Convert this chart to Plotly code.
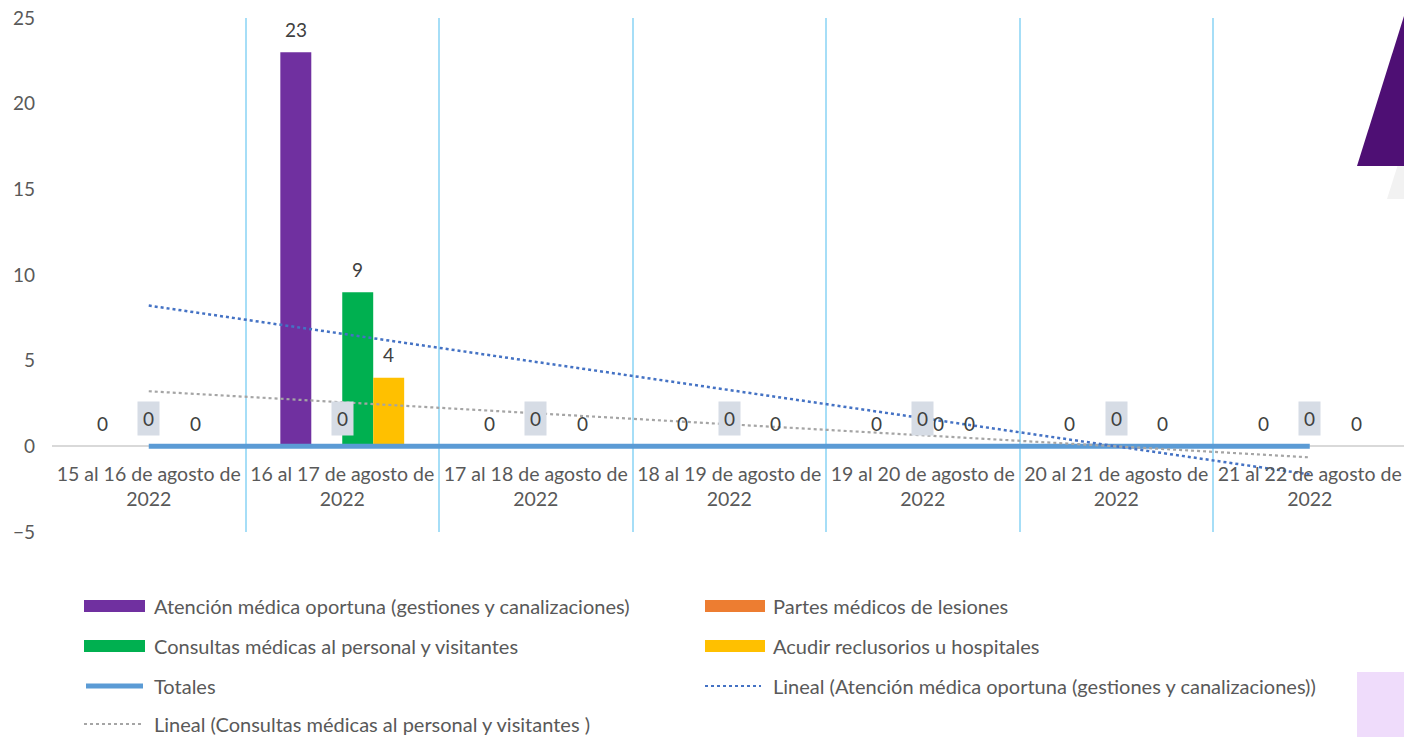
import numpy as np
import plotly.graph_objects as go

categories = [
    "15 al 16 de agosto de<br>2022",
    "16 al 17 de agosto de<br>2022",
    "17 al 18 de agosto de<br>2022",
    "18 al 19 de agosto de<br>2022",
    "19 al 20 de agosto de<br>2022",
    "20 al 21 de agosto de<br>2022",
    "21 al 22 de agosto de<br>2022",
]
atencion = [0, 23, 0, 0, 0, 0, 0]
partes = [0, 0, 0, 0, 0, 0, 0]
consultas = [0, 9, 0, 0, 0, 0, 0]
acudir = [0, 4, 0, 0, 0, 0, 0]
totales = [0, 0, 0, 0, 0, 0, 0]
consultas_label_shown = [False, True, False, False, True, False, False]

names = [
    "Atención médica oportuna (gestiones y canalizaciones)",
    "Partes médicos de lesiones",
    "Consultas médicas al personal y visitantes",
    "Acudir reclusorios u hospitales",
    "Totales",
    "Lineal (Atención médica oportuna (gestiones y canalizaciones))",
    "Lineal (Consultas médicas al personal y visitantes )",
]
colors = ["#7030A0", "#ED7D31", "#00B050", "#FFC000", "#5B9BD5", "#4472C4", "#A5A5A5"]

FONT = "Lato"
TXT = "#595959"
W, H = 1404, 737
ML, MR, MT, MB = 52, 0, 18, 205
XR = [-0.5, 6.487]
YR = [-5, 25]
BARGAP = 0.36
plot_w = W - ML - MR
plot_h = H - MT - MB
unit_px = plot_w / (XR[1] - XR[0])
bar_w_units = (1 - BARGAP) / 4


def px(x):
    return (x - ML) / plot_w


def py(y):
    return (H - MB - y) / plot_h


fig = go.Figure()
for vals, nm, col in zip([atencion, partes, consultas, acudir], names[:4], colors[:4]):
    fig.add_trace(go.Bar(x=categories, y=vals, name=nm, marker_color=col,
                         marker_line_width=0, showlegend=False))

fig.add_trace(go.Scatter(x=categories, y=totales, mode="lines", name=names[4],
                         line=dict(color=colors[4], width=5), showlegend=False))

xi = np.arange(1, len(categories) + 1)
for vals, nm, col, w in [(atencion, names[5], colors[5], 2.5), (consultas, names[6], colors[6], 2.2)]:
    m, b = np.polyfit(xi, np.array(vals, dtype=float), 1)
    fig.add_trace(go.Scatter(x=categories, y=m * xi + b, mode="lines", name=nm,
                             line=dict(color=col, width=w, dash="dot"), showlegend=False))

annotations = []
lab_font = dict(family=FONT, size=19, color="#404040")


def offset_px(k):
    return (k - 1.5) * bar_w_units * unit_px


for i in range(len(categories)):
    annotations.append(dict(x=i, y=atencion[i], xref="x", yref="y", text=str(atencion[i]),
                            showarrow=False, xshift=offset_px(0), yshift=23, font=lab_font))
    if consultas_label_shown[i]:
        annotations.append(dict(x=i, y=consultas[i], xref="x", yref="y", text=str(consultas[i]),
                                showarrow=False, xshift=offset_px(2), yshift=23, font=lab_font))
    annotations.append(dict(x=i, y=acudir[i], xref="x", yref="y", text=str(acudir[i]),
                            showarrow=False, xshift=offset_px(3), yshift=23, font=lab_font))
for i in range(len(categories)):
    annotations.append(dict(x=i, y=totales[i], xref="x", yref="y", text=str(totales[i]),
                            showarrow=False, yshift=28, font=lab_font,
                            bgcolor="#D6DCE5", borderpad=5))

# manual legend (two columns)
shapes = []
leg_font = dict(family=FONT, size=20, color=TXT)
rows_y = [606, 646, 686, 724]
col_x = [(84, 145, 152), (705, 765, 771)]
legend_items = [
    (0, 0, "bar"), (0, 1, "bar"), (1, 0, "bar"), (1, 1, "bar"),
    (2, 0, "line"), (2, 1, "dot"), (3, 0, "dot"),
]
for idx, (r, c, kind) in enumerate(legend_items):
    x0, x1, tx = col_x[c]
    yc = rows_y[r]
    if kind == "bar":
        shapes.append(dict(type="rect", xref="paper", yref="paper", x0=px(x0), x1=px(x1),
                           y0=py(yc + 6), y1=py(yc - 6), fillcolor=colors[idx], line_width=0))
    elif kind == "line":
        shapes.append(dict(type="line", xref="paper", yref="paper", x0=px(x0 + 2), x1=px(x1 - 2),
                           y0=py(yc), y1=py(yc), line=dict(color=colors[idx], width=5)))
    else:
        shapes.append(dict(type="line", xref="paper", yref="paper", x0=px(x0), x1=px(x1 - 4),
                           y0=py(yc), y1=py(yc), line=dict(color=colors[idx], width=2.2, dash="dot")))
    annotations.append(dict(x=px(tx), y=py(yc), xref="paper", yref="paper", text=names[idx],
                            showarrow=False, xanchor="left", yanchor="middle", font=leg_font))


# decorative shapes
def path(pts):
    return "M " + " L ".join(f"{px(a)},{py(b)}" for a, b in pts) + " Z"


shapes.append(dict(type="path", xref="paper", yref="paper",
                   path=path([(1387, 199), (1420, 199), (1420, 120), (1412, 120)]),
                   fillcolor="#F2F2F2", line_width=0))
shapes.append(dict(type="path", xref="paper", yref="paper",
                   path=path([(1357, 166), (1420, 166), (1420, 0), (1409, 0)]),
                   fillcolor="#4E0F74", line_width=0))
shapes.append(dict(type="rect", xref="paper", yref="paper", x0=px(1357), x1=px(1420),
                   y0=py(740), y1=py(672), fillcolor="#EFDCFB", line_width=0))

fig.update_layout(
    width=W, height=H,
    margin=dict(l=ML, r=MR, t=MT, b=MB),
    paper_bgcolor="white", plot_bgcolor="white",
    barmode="group", bargap=BARGAP, bargroupgap=0,
    showlegend=False,
    annotations=annotations, shapes=shapes,
    font=dict(family=FONT, size=18, color=TXT),
)
zero_pos = (0 - YR[0]) / (YR[1] - YR[0])
fig.update_xaxes(type="category", range=XR, tickson="boundaries", showgrid=True,
                 gridcolor="#A6DEF7", gridwidth=2, showline=False, ticks="",
                 anchor="free", position=zero_pos, tickangle=0,
                 tickfont=dict(family=FONT, size=19.5, color=TXT), ticklabelstandoff=14,
                 zeroline=False)
fig.update_yaxes(range=YR, dtick=5, tick0=0, showgrid=False, zeroline=True,
                 zerolinecolor="#D9D9D9", zerolinewidth=2, showline=False, ticks="",
                 tickfont=dict(family=FONT, size=19, color=TXT), ticklabelstandoff=16)

fig.write_html("out.html")
